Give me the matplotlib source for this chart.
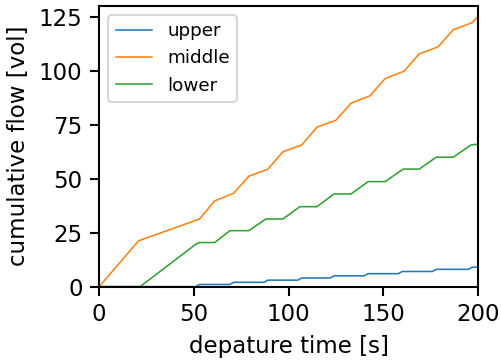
import matplotlib
matplotlib.use("Agg")
import matplotlib.pyplot as plt

# departure time [s] and cumulative flow [vol] per lane group
t_upper = [0, 51, 53, 69, 71, 87, 89, 105, 107, 122, 124, 140, 142, 158, 160, 176, 178, 195, 197, 200]
q_upper = [0, 0, 1, 1, 2, 2, 3, 3, 4, 4, 5, 5, 6, 6, 7, 7, 8, 8, 9, 9]

t_middle = [0, 20.8, 53, 61, 71, 79, 89, 97, 107, 115, 125, 133, 143, 151, 161, 169, 179, 187, 197, 200]
q_middle = [0, 21.2, 31.3, 39.7, 43.2, 51.1, 54.3, 62.4, 65.6, 73.8, 77.0, 84.9, 88.3, 96.3, 99.7,
            107.7, 111.0, 118.9, 122.2, 125.0]

t_lower = [0, 21.6, 51, 53, 61, 69, 79, 88, 97, 106, 115, 124, 133, 142, 151, 160.5, 169, 178, 187, 196, 198, 200]
q_lower = [0, 0, 19.6, 20.4, 20.4, 25.9, 25.9, 31.3, 31.3, 37.0, 37.0, 42.9, 42.9, 48.6, 48.6, 54.4,
           54.4, 59.9, 59.9, 65.4, 65.8, 65.8]

plt.rcParams['font.size'] = 11
plt.rcParams['axes.linewidth'] = 1.0
plt.rcParams['xtick.major.size'] = 4.5
plt.rcParams['ytick.major.size'] = 4.5
plt.rcParams['xtick.major.width'] = 1.0
plt.rcParams['ytick.major.width'] = 1.0

fig, ax = plt.subplots(figsize=(3.34, 2.407), dpi=150)
fig.subplots_adjust(left=0.198, right=0.954, bottom=0.206, top=0.984)

ax.plot(t_upper, q_upper, lw=0.75, label="upper")
ax.plot(t_middle, q_middle, lw=0.75, label="middle")
ax.plot(t_lower, q_lower, lw=0.75, label="lower")

ax.set_xlim(0, 200)
ax.set_ylim(0, 130)
ax.set_xticks([0, 50, 100, 150, 200])
ax.set_yticks([0, 25, 50, 75, 100, 125])
ax.set_xlabel("depature time [s]")
ax.set_ylabel("cumulative flow [vol]")
ax.legend(loc="upper left", fontsize=8.8)

fig.savefig("out.png", dpi=150)
